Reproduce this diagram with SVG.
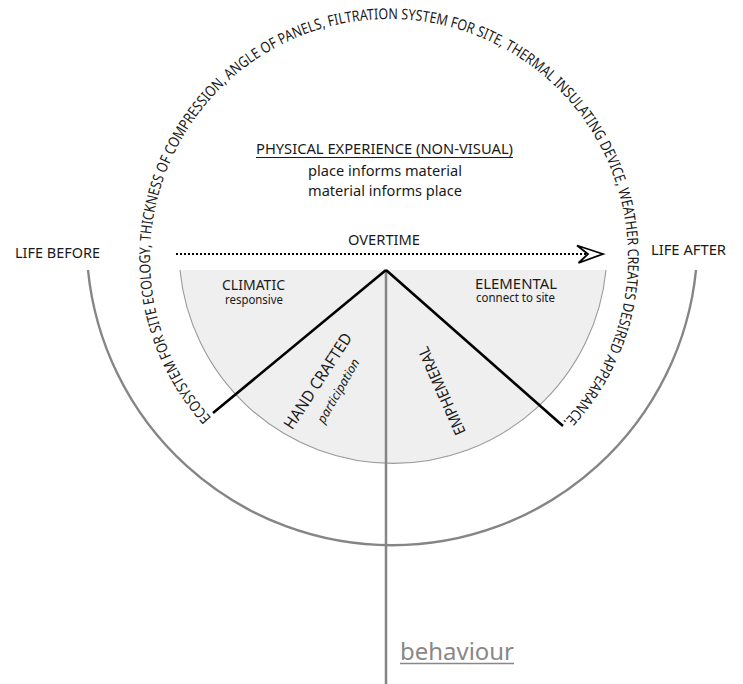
<svg xmlns="http://www.w3.org/2000/svg" width="743" height="684" viewBox="0 0 743 684">
  <style>
    text { font-family: "Noto Sans", "Open Sans", sans-serif; fill: #1a1a1a; }
    .lbl { font-size: 15px; }
    .sub { font-size: 12px; }
    .gray { stroke: #858585; fill: none; }
    .black { stroke: #000; stroke-width: 2.6; fill: none; }
  </style>
  <defs>
    <path id="arcPath" d="M211.4,417.9 A239,239 0 1 1 560.9,424.0"/>
  </defs>
  <rect width="743" height="684" fill="#fff"/>

  <g id="outer-ring">
    <path class="gray" stroke-width="2.4" d="M88,270 A305.5,305.5 0 0 0 696,270"/>
  </g>

  <g id="inner-sector">
    <path d="M180,270 A214,214 0 0 0 606,270 Z" fill="#efefef" stroke="none"/>
    <path d="M180,270 A214,214 0 0 0 606,270" fill="none" stroke="#9a9a9a" stroke-width="1.1"/>
  </g>

  <g id="connectors">
    <line class="gray" stroke-width="2.5" x1="386" y1="270" x2="386" y2="684"/>
    <line class="black" x1="386" y1="270" x2="213" y2="413"/>
    <line class="black" x1="386" y1="270" x2="563" y2="426"/>
    <line x1="176" y1="254" x2="590" y2="254" stroke="#000" stroke-width="2.2" stroke-dasharray="2 2"/>
    <path d="M603,254 L577,245.5 L588,254 L578.5,263 Z" fill="#fff" stroke="#000" stroke-width="1.8" stroke-linejoin="miter"/>
  </g>

  <g id="arc-text">
    <text font-size="15"><textPath href="#arcPath" textLength="1106" lengthAdjust="spacingAndGlyphs">ECOSYSTEM FOR SITE ECOLOGY, THICKNESS OF COMPRESSION, ANGLE OF PANELS, FILTRATION SYSTEM FOR SITE, THERMAL INSULATING DEVICE, WEATHER CREATES DESIRED APPEARANCE.</textPath></text>
  </g>

  <g id="physical-experience">
    <text class="lbl" x="256" y="154" textLength="257" lengthAdjust="spacingAndGlyphs">PHYSICAL EXPERIENCE (NON-VISUAL)</text>
    <line x1="256" y1="157.5" x2="513" y2="157.5" stroke="#1a1a1a" stroke-width="1"/>
    <text class="lbl" x="308" y="176" textLength="154" lengthAdjust="spacingAndGlyphs">place informs material</text>
    <text class="lbl" x="308" y="196" textLength="154" lengthAdjust="spacingAndGlyphs">material informs place</text>
  </g>

  <g id="life-before">
    <text class="lbl" x="15" y="258" textLength="85" lengthAdjust="spacingAndGlyphs">LIFE BEFORE</text>
  </g>
  <g id="life-after">
    <text class="lbl" x="651" y="255" textLength="75" lengthAdjust="spacingAndGlyphs">LIFE AFTER</text>
  </g>
  <g id="overtime">
    <text class="lbl" x="348" y="245" textLength="72" lengthAdjust="spacingAndGlyphs">OVERTIME</text>
  </g>

  <g id="climatic">
    <text class="lbl" x="222" y="290" textLength="63" lengthAdjust="spacingAndGlyphs">CLIMATIC</text>
    <text class="sub" x="225" y="304" textLength="58" lengthAdjust="spacingAndGlyphs">responsive</text>
  </g>
  <g id="elemental">
    <text class="lbl" x="475" y="288.5" textLength="82" lengthAdjust="spacingAndGlyphs">ELEMENTAL</text>
    <text class="sub" x="476" y="302" textLength="79" lengthAdjust="spacingAndGlyphs">connect to site</text>
  </g>
  <g id="hand-crafted">
    <text font-size="16" text-anchor="middle" transform="translate(322.6,384) rotate(-57)" textLength="111" lengthAdjust="spacingAndGlyphs">HAND CRAFTED</text>
    <text font-size="12.5" font-style="italic" text-anchor="middle" transform="translate(342,393) rotate(-60)" textLength="72" lengthAdjust="spacingAndGlyphs">participation</text>
  </g>
  <g id="emphemeral">
    <text font-size="15.5" text-anchor="middle" transform="translate(446.7,388.7) rotate(-114)" textLength="95" lengthAdjust="spacingAndGlyphs">EMPHEMERAL</text>
  </g>

  <g id="behaviour">
    <text x="400" y="660" font-size="23" style="fill:#888" textLength="114" lengthAdjust="spacingAndGlyphs">behaviour</text>
    <line x1="400" y1="663.5" x2="514" y2="663.5" stroke="#888" stroke-width="1.5"/>
  </g>
</svg>
